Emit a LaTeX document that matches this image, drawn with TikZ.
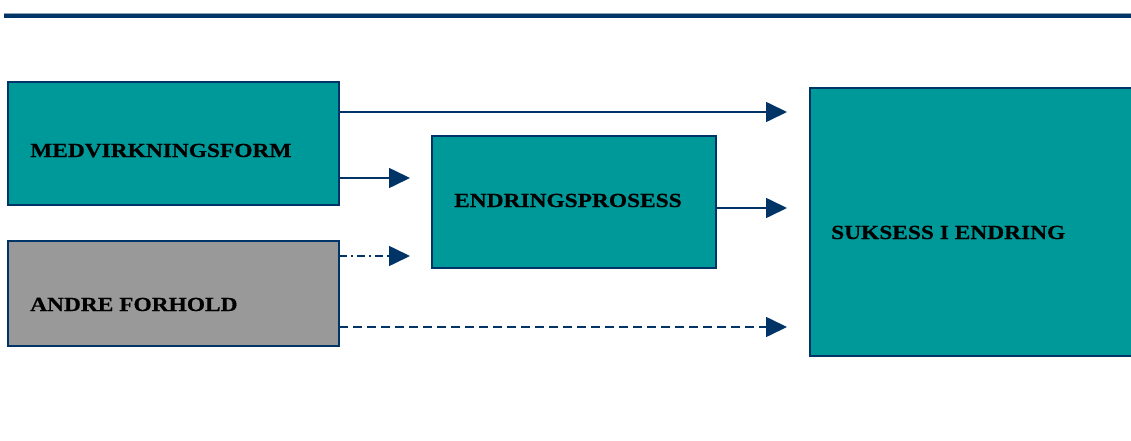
\documentclass[tikz,border=0pt]{standalone}
\usepackage{fontspec}
\setmainfont{Liberation Serif}
\newfontfamily\boxfont[FakeStretch=1.17,FakeBold=0.6]{Liberation Serif}
\usetikzlibrary{arrows.meta}
\definecolor{navy}{HTML}{003366}
\definecolor{teal}{HTML}{009999}
\definecolor{greyfill}{HTML}{999999}
\tikzset{
  box/.style={draw=navy, line width=1.4pt, anchor=north west, inner sep=0pt, outer sep=0pt},
  lbl/.style={anchor=base west, inner sep=0pt, font=\boxfont\bfseries\fontsize{20}{20}\selectfont},
  arr/.style={draw=navy, line width=1.6pt, -{Triangle[length=21pt,width=20pt]}},
}
\begin{document}
\begin{tikzpicture}[x=1pt, y=-1pt]
\useasboundingbox (0,0) rectangle (1131,441);
% heading rule
\draw[line width=5pt, color=navy!45] (4,16) -- (1131,16);
\draw[line width=3.6pt, color=navy] (4,16) -- (1131,16);

% boxes
\node[box, fill=teal, minimum width=331pt, minimum height=123pt] (med) at (8,82) {};
\node[box, fill=greyfill, minimum width=331pt, minimum height=105pt] (andre) at (8,241) {};
\node[box, fill=teal, minimum width=284pt, minimum height=132pt] (endr) at (432,136) {};
\node[box, fill=teal, minimum width=325pt, minimum height=268pt] (suk) at (810,88) {};

% labels
\node[lbl] (medtxt) at (30,157) {MEDVIRKNINGSFORM};
\node[lbl] (andretxt) at (30,311) {ANDRE FORHOLD};
\node[lbl] (endrtxt) at (454,207) {ENDRINGSPROSESS};
\node[lbl] (suktxt) at (831,239) {SUKSESS I ENDRING};

% connectors
\draw[arr, shorten >=23pt] (med.east |- 0,112) -- (suk.west |- 0,112);
\draw[arr, shorten >=22pt] (med.east |- 0,178) -- (endr.west |- 0,178);
\draw[arr, shorten >=23pt] (endr.east |- 0,208) -- (suk.west |- 0,208);
\draw[arr, shorten >=22pt, dash pattern=on 8pt off 4pt on 2pt off 4pt] (andre.east |- 0,256) -- (endr.west |- 0,256);
\draw[arr, shorten >=23pt, dash pattern=on 9pt off 5pt] (andre.east |- 0,327) -- (suk.west |- 0,327);
\end{tikzpicture}
\end{document}
